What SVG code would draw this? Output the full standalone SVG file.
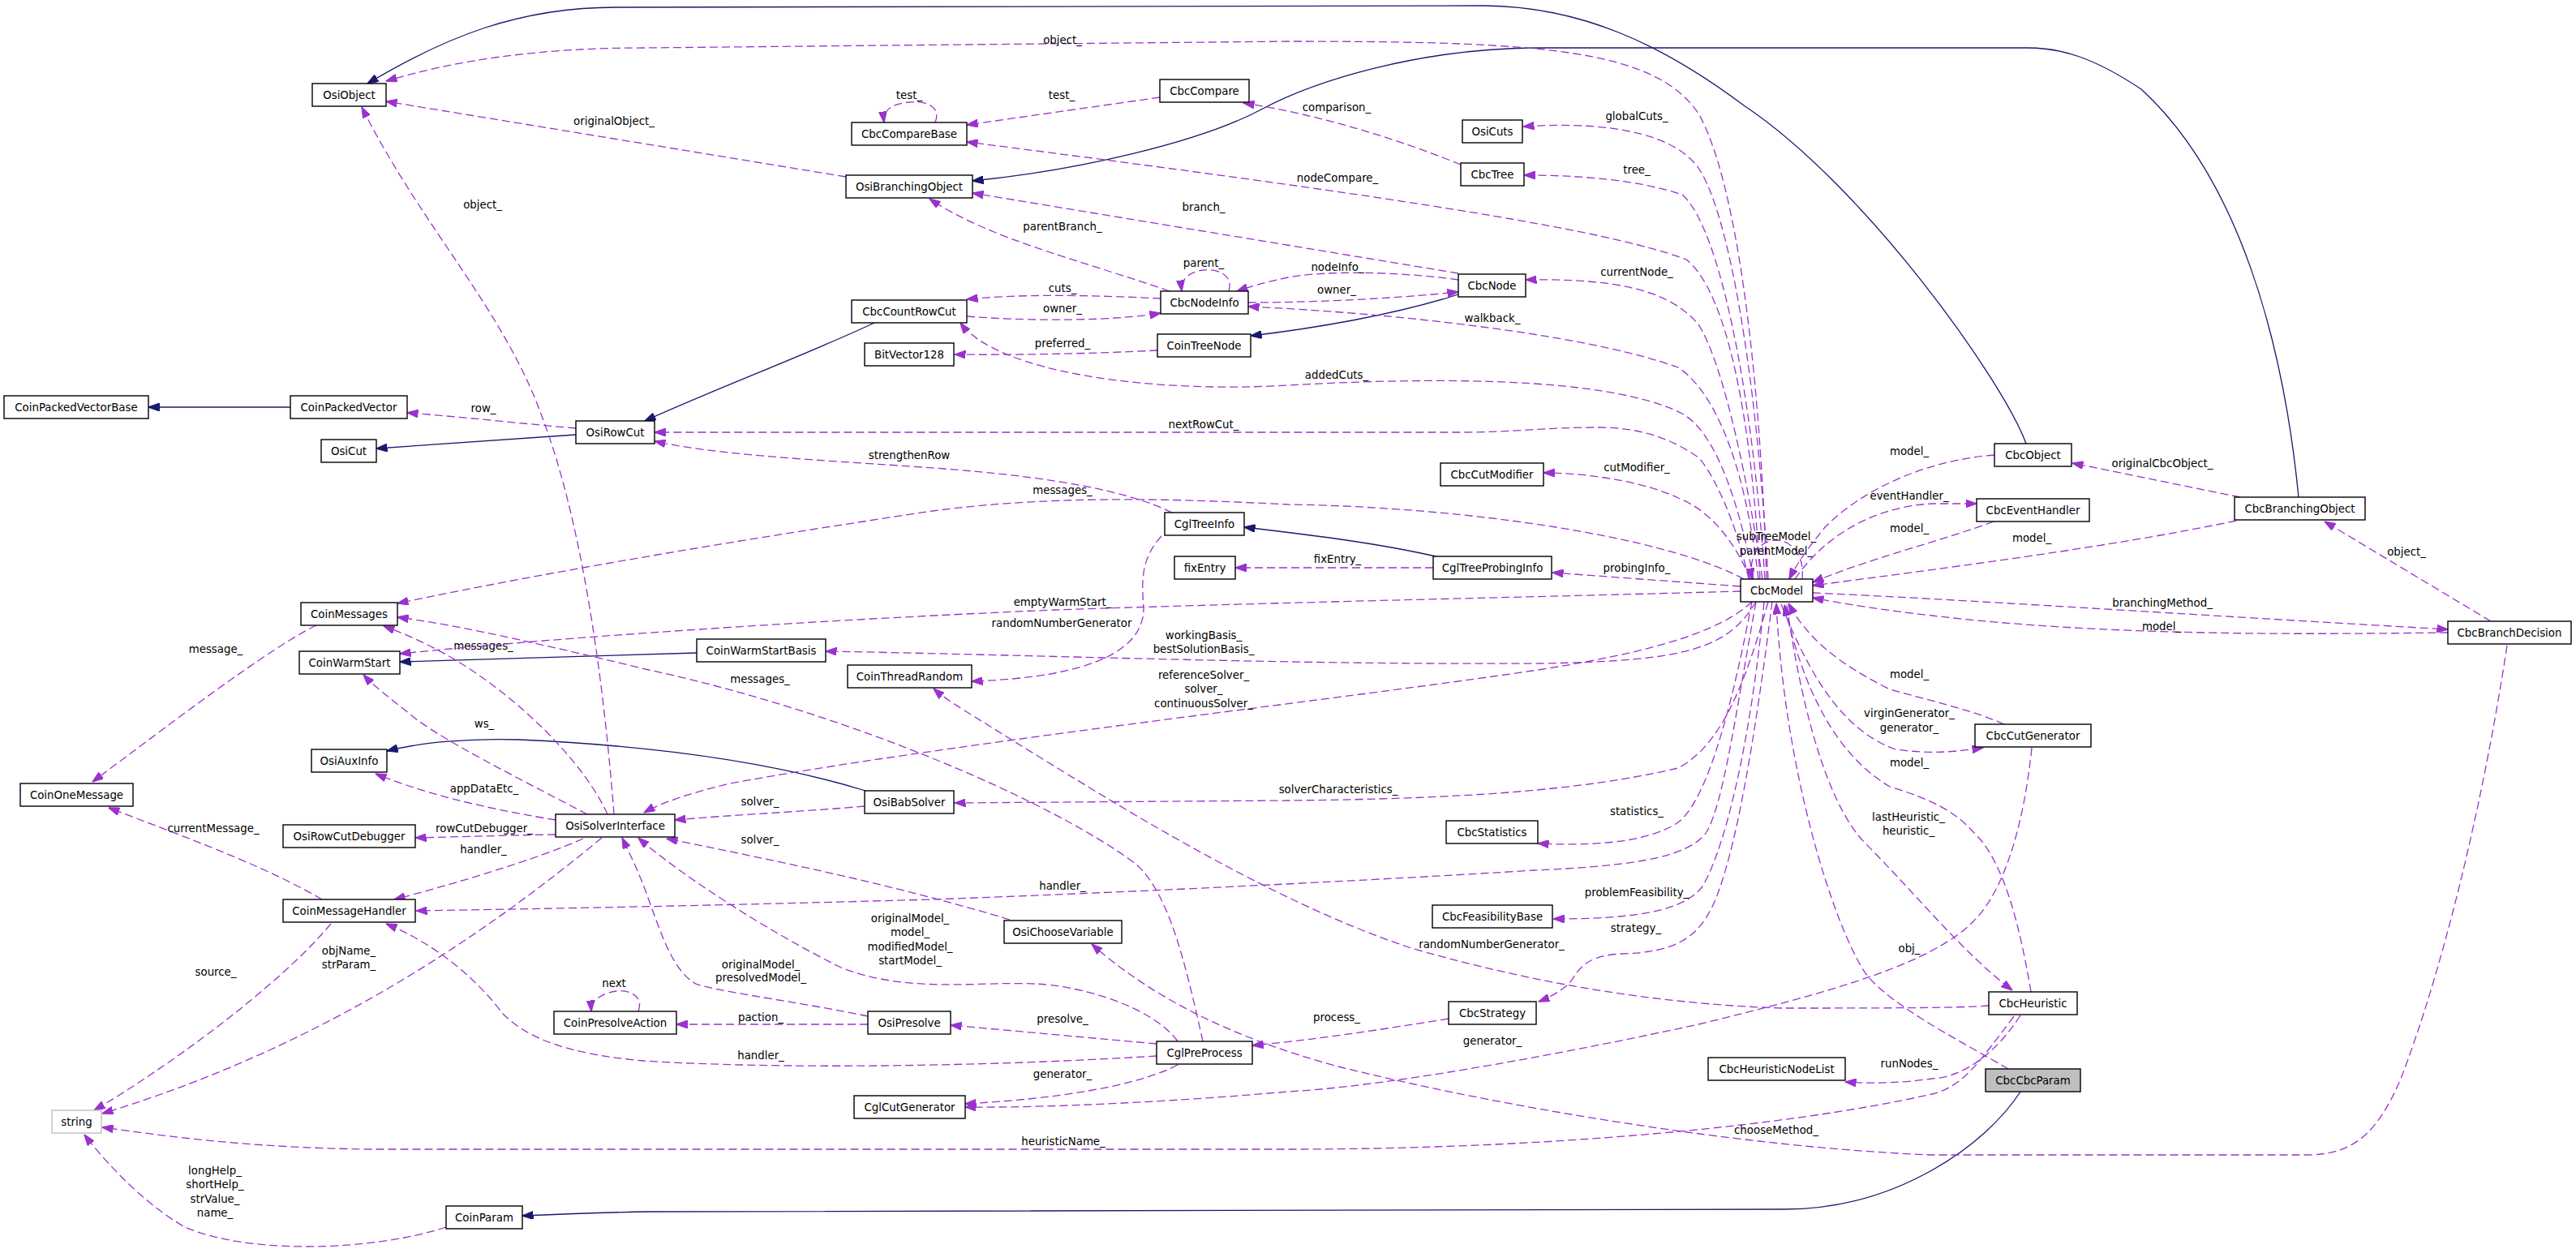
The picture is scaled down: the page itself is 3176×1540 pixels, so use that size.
<svg xmlns="http://www.w3.org/2000/svg" width="3176" height="1540" viewBox="0 0 3176 1540">
<style>
text{font-family:"DejaVu Sans","Liberation Sans",sans-serif;font-size:13.33px;fill:#000;text-anchor:middle}
.n rect{fill:#fff;stroke:#000;stroke-width:1.4}
.u{fill:none;stroke:#9a32cd;stroke-width:1.3;stroke-dasharray:10,5;marker-end:url(#au)}
.i{fill:none;stroke:#191970;stroke-width:1.3;marker-end:url(#ai)}
</style>
<defs>
<marker id="au" viewBox="0 0 14 10" refX="13.5" refY="5" markerWidth="14" markerHeight="10" markerUnits="userSpaceOnUse" orient="auto"><path d="M0,0 L14,5 L0,10 z" fill="#9a32cd" stroke="#9a32cd" stroke-width="1"/></marker>
<marker id="ai" viewBox="0 0 14 10" refX="13.5" refY="5" markerWidth="14" markerHeight="10" markerUnits="userSpaceOnUse" orient="auto"><path d="M0,0 L14,5 L0,10 z" fill="#191970" stroke="#191970" stroke-width="1"/></marker>
</defs>
<rect width="3176" height="1540" fill="#fff"/>
<g id="edges">
<!-- inheritance -->
<path class="i" d="M2834,613 C2815,420 2760,220 2640,110 C2580,70 2540,59 2500,59 L1900,59 C1750,59 1620,100 1555,135 C1480,175 1330,210 1199,223"/>
<path class="i" d="M2498,547 C2470,470 2300,230 2150,130 C2050,55 1950,8 1830,7 L760,9 C640,9 550,45 453,103"/>
<path class="i" d="M1078,398 C1000,435 880,480 795,519"/>
<path class="i" d="M358,502 L183,502"/>
<path class="i" d="M710,536 L464,553"/>
<path class="i" d="M1798,363 C1720,388 1620,405 1542,414"/>
<path class="i" d="M1770,686 C1700,670 1620,660 1534,650"/>
<path class="i" d="M859,805 L493,816"/>
<path class="i" d="M1067,975 C960,942 820,920 640,912 C580,910 520,915 477,926"/>
<path class="i" d="M2491,1346 C2450,1410 2340,1491 2200,1491 L800,1494 C740,1495 690,1497 644,1499"/>
<!-- usage -->
<path class="u" d="M2178,714 C2170,450 2140,220 2094,140 C2040,60 1900,51 1588,51 L794,59 C660,59 560,75 476,100"/>
<text x="1310" y="54">object_</text>
<path class="u" d="M1043,218 L476,125"/>
<text x="757" y="154">originalObject_</text>
<path class="u" d="M757,1004 C745,850 720,650 668,513 C620,380 520,280 446,132"/>
<text x="595" y="257">object_</text>
<path class="u" d="M1153,151 C1162,128 1135,124 1121,126 C1100,128 1088,135 1090,151"/>
<text x="1121" y="122">test_</text>
<path class="u" d="M1430,120 L1192,154"/>
<text x="1309" y="122">test_</text>
<path class="u" d="M2170,714 C2160,520 2130,360 2079,320 C1980,282 1700,240 1192,175"/>
<text x="1649" y="224">nodeCompare_</text>
<path class="u" d="M1801,203 C1720,170 1620,140 1533,127"/>
<text x="1648" y="137">comparison_</text>
<path class="u" d="M2180,714 C2165,450 2130,260 2094,207 C2060,160 1970,150 1878,156"/>
<text x="2018" y="148">globalCuts_</text>
<path class="u" d="M2176,714 C2160,480 2120,280 2074,240 C2020,222 1950,216 1879,216"/>
<text x="2018" y="214">tree_</text>
<path class="u" d="M1798,337 L1199,238"/>
<text x="1484" y="260">branch_</text>
<path class="u" d="M1442,359 C1330,320 1220,295 1146,245"/>
<text x="1310" y="284">parentBranch_</text>
<path class="u" d="M1515,359 C1522,336 1495,331 1485,333 C1470,334 1455,342 1457,359"/>
<text x="1484" y="329">parent_</text>
<path class="u" d="M1798,345 C1720,334 1630,334 1588,342 C1565,347 1545,352 1525,359"/>
<text x="1649" y="334">nodeInfo_</text>
<path class="u" d="M1539,373 C1600,373 1700,370 1798,360"/>
<text x="1648" y="362">owner_</text>
<path class="u" d="M1192,390 C1280,397 1380,395 1431,386"/>
<text x="1310" y="385">owner_</text>
<path class="u" d="M1431,368 C1350,364 1260,362 1192,369"/>
<text x="1310" y="360">cuts_</text>
<path class="u" d="M2168,714 C2150,560 2110,480 2069,453 C1950,410 1700,385 1539,378"/>
<text x="1840" y="397">walkback_</text>
<path class="u" d="M2162,714 C2140,600 2110,530 2074,510 C1980,462 1750,466 1588,475 C1420,485 1230,460 1184,398"/>
<text x="1648" y="467">addedCuts_</text>
<path class="u" d="M1427,432 C1350,436 1250,438 1177,437"/>
<text x="1310" y="428">preferred_</text>
<path class="u" d="M2173,714 C2150,560 2120,440 2094,400 C2060,360 2000,343 1881,345"/>
<text x="2018" y="340">currentNode_</text>
<path class="u" d="M2156,714 C2140,640 2110,580 2094,564 C2060,540 2020,527 1973,527 C1900,527 1870,533 1800,533 L807,533"/>
<text x="1484" y="528">nextRowCut_</text>
<path class="u" d="M1445,632 C1390,605 1300,590 1199,581 C1080,570 900,565 807,544"/>
<text x="1121" y="566">strengthenRow</text>
<path class="u" d="M2150,714 C2050,660 1800,625 1588,622 C1450,615 1300,610 1150,630 C950,660 700,700 490,744"/>
<text x="1310" y="609">messages_</text>
<path class="u" d="M749,1004 C720,940 640,860 557,811 C520,790 495,780 473,772"/>
<text x="596" y="801">messages_</text>
<path class="u" d="M1483,1284 C1460,1180 1440,1100 1400,1065 C1300,990 1050,880 800,826 C650,790 560,770 490,761"/>
<text x="937" y="842">messages_</text>
<path class="u" d="M2146,729 C1900,736 1600,742 1300,752 C1000,765 700,785 493,806"/>
<text x="1310" y="747">emptyWarmStart_</text>
<path class="u" d="M724,1004 C640,960 540,910 506,881 C480,860 460,845 448,832"/>
<text x="597" y="897">ws_</text>
<path class="u" d="M2165,742 C2130,800 2080,815 1900,818 C1600,820 1300,808 1018,803"/>
<text x="1484" y="788">workingBasis_</text>
<text x="1484" y="805">bestSolutionBasis_</text>
<path class="u" d="M2160,742 C2110,790 1980,815 1841,834 C1600,868 1150,920 900,966 C850,978 815,990 794,1002"/>
<text x="1484" y="837">referenceSolver_</text>
<text x="1484" y="854">solver_</text>
<text x="1484" y="872">continuousSolver_</text>
<path class="u" d="M1066,994 C1000,1000 900,1005 832,1011"/>
<text x="937" y="993">solver_</text>
<path class="u" d="M1245,1134 C1100,1090 950,1060 822,1034"/>
<text x="937" y="1040">solver_</text>
<path class="u" d="M1452,1284 C1420,1240 1330,1215 1275,1213 C1200,1210 1120,1225 1037,1193 C950,1150 840,1080 787,1033"/>
<text x="1122" y="1137">originalModel_</text>
<text x="1122" y="1154">model_</text>
<text x="1122" y="1172">modifiedModel_</text>
<text x="1122" y="1189">startModel_</text>
<path class="u" d="M1070,1253 C1000,1238 900,1225 860,1214 C830,1200 815,1150 800,1110 C788,1075 775,1050 767,1033"/>
<text x="938" y="1194">originalModel_</text>
<text x="938" y="1210">presolvedModel_</text>
<path class="u" d="M685,1011 C620,1000 540,985 463,954"/>
<text x="597" y="977">appDataEtc_</text>
<path class="u" d="M390,771 C330,800 200,900 114,964"/>
<text x="266" y="805">message_</text>
<path class="u" d="M397,1109 C330,1070 250,1040 134,996"/>
<text x="263" y="1026">currentMessage_</text>
<path class="u" d="M685,1029 C620,1030 560,1032 512,1033"/>
<text x="597" y="1026">rowCutDebugger_</text>
<path class="u" d="M719,1034 C660,1060 560,1090 486,1109"/>
<text x="596" y="1052">handler_</text>
<path class="u" d="M2165,742 C2140,880 2125,990 2104,1026 C2080,1060 2000,1068 1892,1073 C1700,1085 1400,1100 1148,1109 C900,1116 700,1120 513,1123"/>
<text x="1310" y="1097">handler_</text>
<path class="u" d="M1426,1302 C1200,1316 950,1318 794,1308 C700,1300 650,1280 620,1250 C590,1210 540,1165 476,1139"/>
<text x="938" y="1306">handler_</text>
<path class="u" d="M408,1139 C340,1220 200,1320 116,1369"/>
<text x="266" y="1203">source_</text>
<path class="u" d="M742,1033 C600,1150 400,1290 126,1373"/>
<text x="430" y="1177">objName_</text>
<text x="430" y="1194">strParam_</text>
<path class="u" d="M2483,1253 C2440,1310 2420,1340 2382,1349 C2200,1390 1900,1417 1588,1417 L456,1417 C300,1415 200,1400 126,1390"/>
<text x="1311" y="1412">heuristicName_</text>
<path class="u" d="M550,1513 C450,1545 300,1545 228,1513 C170,1480 120,1420 104,1399"/>
<text x="265" y="1448">longHelp_</text>
<text x="265" y="1465">shortHelp_</text>
<text x="265" y="1483">strValue_</text>
<text x="265" y="1500">name_</text>
<path class="u" d="M787,1247 C795,1225 770,1220 760,1222 C745,1224 728,1232 729,1247"/>
<text x="757" y="1217">next</text>
<path class="u" d="M1070,1263 L834,1263"/>
<text x="938" y="1259">paction_</text>
<path class="u" d="M3091,796 C3060,1000 3010,1200 2960,1330 C2930,1400 2900,1424 2843,1424 L2382,1424 C2150,1415 1850,1365 1650,1315 C1520,1280 1420,1230 1346,1164"/>
<text x="2190" y="1398">chooseMethod_</text>
<path class="u" d="M1426,1287 L1172,1264"/>
<text x="1310" y="1261">presolve_</text>
<path class="u" d="M1452,1313 C1400,1340 1300,1355 1190,1361"/>
<text x="1310" y="1329">generator_</text>
<path class="u" d="M2505,922 C2495,1020 2470,1100 2433,1136 C2380,1190 2250,1225 2094,1263 C1900,1305 1700,1340 1588,1346 C1450,1358 1300,1366 1190,1365"/>
<text x="1840" y="1288">generator_</text>
<path class="u" d="M1786,1256 C1700,1270 1620,1282 1544,1289"/>
<text x="1648" y="1259">process_</text>
<path class="u" d="M2175,742 C2160,900 2130,1040 2099,1093 C2075,1125 2010,1133 1915,1133"/>
<text x="2018" y="1105">problemFeasibility_</text>
<path class="u" d="M2160,742 C2130,900 2100,990 2069,1014 C2030,1040 1960,1043 1896,1040"/>
<text x="2018" y="1005">statistics_</text>
<path class="u" d="M2180,742 C2150,850 2120,920 2069,947 C1950,975 1800,985 1588,987 L1177,990"/>
<text x="1650" y="978">solverCharacteristics_</text>
<path class="u" d="M2185,742 C2165,900 2140,1060 2110,1120 C2090,1160 2060,1174 2000,1176 C1950,1178 1945,1200 1935,1212 C1925,1222 1910,1230 1897,1235"/>
<text x="2017" y="1149">strategy_</text>
<path class="u" d="M2491,1252 C2460,1300 2420,1328 2382,1330 C2340,1336 2300,1336 2275,1334"/>
<text x="2354" y="1316">runNodes_</text>
<path class="u" d="M2452,1240 C2420,1243 2300,1243 2196,1243 C2050,1238 1900,1215 1740,1169 C1560,1110 1350,975 1250,914 C1200,882 1170,866 1151,849"/>
<text x="1839" y="1169">randomNumberGenerator_</text>
<path class="u" d="M1432,661 C1405,690 1408,720 1410,750 C1410,800 1350,835 1198,840"/>
<text x="1309" y="773">randomNumberGenerator</text>
<path class="u" d="M1767,700 L1523,700"/>
<text x="1649" y="694">fixEntry_</text>
<path class="u" d="M2146,723 L1914,706"/>
<text x="2018" y="705">probingInfo_</text>
<path class="u" d="M2158,714 C2140,670 2110,630 2069,614 C2030,595 1960,583 1903,583"/>
<text x="2018" y="581">cutModifier_</text>
<path class="u" d="M2222,714 C2228,650 2150,650 2160,714"/>
<text x="2190" y="666">subTreeModel_</text>
<text x="2190" y="684">parentModel_</text>
<path class="u" d="M2459,561 C2380,567 2300,600 2250,650 C2230,675 2215,695 2206,714"/>
<text x="2354" y="561">model_</text>
<path class="u" d="M2213,714 C2250,660 2310,625 2382,621 L2437,621"/>
<text x="2354" y="616">eventHandler_</text>
<path class="u" d="M2458,643 C2400,665 2300,690 2235,718"/>
<text x="2354" y="656">model_</text>
<path class="u" d="M2757,642 C2600,675 2400,700 2235,722"/>
<text x="2505" y="668">model_</text>
<path class="u" d="M2235,731 C2400,738 2700,758 3018,776"/>
<text x="2666" y="748">branchingMethod_</text>
<path class="u" d="M3018,780 C2850,782 2600,785 2382,759 C2320,752 2270,744 2235,737"/>
<text x="2665" y="777">model_</text>
<path class="u" d="M3071,766 L2866,643"/>
<text x="2967" y="685">object_</text>
<path class="u" d="M2762,613 L2555,571"/>
<text x="2666" y="576">originalCbcObject_</text>
<path class="u" d="M2471,893 C2430,875 2380,864 2330,850 C2270,820 2230,790 2205,744"/>
<text x="2354" y="836">model_</text>
<path class="u" d="M2196,745 C2230,830 2270,900 2337,924 C2380,930 2410,927 2445,922"/>
<text x="2354" y="884">virginGenerator_</text>
<text x="2354" y="902">generator_</text>
<path class="u" d="M2504,1223 C2490,1140 2470,1060 2433,1026 C2410,1000 2380,985 2330,970 C2280,940 2230,880 2200,746"/>
<text x="2354" y="945">model_</text>
<path class="u" d="M2203,746 C2225,900 2260,1000 2300,1040 C2360,1100 2420,1175 2481,1221"/>
<text x="2353" y="1012">lastHeuristic_</text>
<text x="2353" y="1029">heuristic_</text>
<path class="u" d="M2476,1318 C2420,1285 2330,1240 2300,1200 C2260,1140 2200,950 2190,744"/>
<text x="2354" y="1174">obj_</text>
<path class="u" d="M710,528 C640,522 570,514 502,509"/>
<text x="596" y="508">row_</text>
</g>
<g id="OsiObject" class="n"><rect x="385" y="103" width="91" height="28"/><text x="430.5" y="122">OsiObject</text></g>
<g id="CoinPackedVectorBase" class="n"><rect x="5" y="488" width="178" height="28"/><text x="94" y="507">CoinPackedVectorBase</text></g>
<g id="CoinPackedVector" class="n"><rect x="358" y="488" width="144" height="28"/><text x="430" y="507">CoinPackedVector</text></g>
<g id="CbcCompare" class="n"><rect x="1430" y="98" width="110" height="28"/><text x="1485" y="117">CbcCompare</text></g>
<g id="CbcCompareBase" class="n"><rect x="1050" y="151" width="142" height="28"/><text x="1121" y="170">CbcCompareBase</text></g>
<g id="OsiBranchingObject" class="n"><rect x="1043" y="216" width="156" height="28"/><text x="1121" y="235">OsiBranchingObject</text></g>
<g id="CbcCountRowCut" class="n"><rect x="1050" y="370" width="142" height="28"/><text x="1121" y="389">CbcCountRowCut</text></g>
<g id="BitVector128" class="n"><rect x="1066" y="423" width="110" height="28"/><text x="1121" y="442">BitVector128</text></g>
<g id="CbcNodeInfo" class="n"><rect x="1431" y="359" width="108" height="28"/><text x="1485" y="378">CbcNodeInfo</text></g>
<g id="CoinTreeNode" class="n"><rect x="1427" y="412" width="115" height="28"/><text x="1484.5" y="431">CoinTreeNode</text></g>
<g id="OsiCuts" class="n"><rect x="1803" y="148" width="74" height="28"/><text x="1840" y="167">OsiCuts</text></g>
<g id="CbcTree" class="n"><rect x="1801" y="201" width="78" height="28"/><text x="1840" y="220">CbcTree</text></g>
<g id="CbcNode" class="n"><rect x="1798" y="338" width="83" height="28"/><text x="1839.5" y="357">CbcNode</text></g>
<g id="OsiRowCut" class="n"><rect x="710" y="519" width="97" height="28"/><text x="758.5" y="538">OsiRowCut</text></g>
<g id="OsiCut" class="n"><rect x="396" y="542" width="68" height="28"/><text x="430" y="561">OsiCut</text></g>
<g id="CoinMessages" class="n"><rect x="371" y="743" width="119" height="28"/><text x="430.5" y="762">CoinMessages</text></g>
<g id="CoinWarmStart" class="n"><rect x="369" y="803" width="124" height="28"/><text x="431" y="822">CoinWarmStart</text></g>
<g id="OsiAuxInfo" class="n"><rect x="384" y="924" width="93" height="28"/><text x="430.5" y="943">OsiAuxInfo</text></g>
<g id="CoinOneMessage" class="n"><rect x="25" y="966" width="139" height="28"/><text x="94.5" y="985">CoinOneMessage</text></g>
<g id="OsiSolverInterface" class="n"><rect x="685" y="1004" width="147" height="28"/><text x="758.5" y="1023">OsiSolverInterface</text></g>
<g id="OsiRowCutDebugger" class="n"><rect x="349" y="1017" width="163" height="28"/><text x="430.5" y="1036">OsiRowCutDebugger</text></g>
<g id="CoinMessageHandler" class="n"><rect x="349" y="1109" width="163" height="28"/><text x="430.5" y="1128">CoinMessageHandler</text></g>
<g id="string" class="n"><rect x="64" y="1369" width="61" height="28" style="stroke:#bfbfbf"/><text x="94.5" y="1388">string</text></g>
<g id="CoinPresolveAction" class="n"><rect x="683" y="1247" width="151" height="28"/><text x="758.5" y="1266">CoinPresolveAction</text></g>
<g id="CoinParam" class="n"><rect x="550" y="1487" width="94" height="28"/><text x="597" y="1506">CoinParam</text></g>
<g id="CglTreeInfo" class="n"><rect x="1436" y="632" width="98" height="28"/><text x="1485" y="651">CglTreeInfo</text></g>
<g id="fixEntry" class="n"><rect x="1448" y="686" width="75" height="28"/><text x="1485.5" y="705">fixEntry</text></g>
<g id="CoinWarmStartBasis" class="n"><rect x="859" y="788" width="159" height="28"/><text x="938.5" y="807">CoinWarmStartBasis</text></g>
<g id="CoinThreadRandom" class="n"><rect x="1045" y="820" width="153" height="28"/><text x="1121.5" y="839">CoinThreadRandom</text></g>
<g id="OsiBabSolver" class="n"><rect x="1066" y="975" width="110" height="28"/><text x="1121" y="994">OsiBabSolver</text></g>
<g id="CbcCutModifier" class="n"><rect x="1776" y="571" width="127" height="28"/><text x="1839.5" y="590">CbcCutModifier</text></g>
<g id="CglTreeProbingInfo" class="n"><rect x="1767" y="686" width="146" height="28"/><text x="1840" y="705">CglTreeProbingInfo</text></g>
<g id="CbcModel" class="n"><rect x="2146" y="714" width="89" height="28"/><text x="2190.5" y="733">CbcModel</text></g>
<g id="CbcStatistics" class="n"><rect x="1783" y="1012" width="113" height="28"/><text x="1839.5" y="1031">CbcStatistics</text></g>
<g id="CbcObject" class="n"><rect x="2459" y="547" width="95" height="28"/><text x="2506.5" y="566">CbcObject</text></g>
<g id="CbcEventHandler" class="n"><rect x="2437" y="615" width="139" height="28"/><text x="2506.5" y="634">CbcEventHandler</text></g>
<g id="CbcBranchingObject" class="n"><rect x="2755" y="613" width="161" height="28"/><text x="2835.5" y="632">CbcBranchingObject</text></g>
<g id="CbcBranchDecision" class="n"><rect x="3018" y="766" width="152" height="28"/><text x="3094" y="785">CbcBranchDecision</text></g>
<g id="CbcCutGenerator" class="n"><rect x="2435" y="893" width="143" height="28"/><text x="2506.5" y="912">CbcCutGenerator</text></g>
<g id="OsiChooseVariable" class="n"><rect x="1238" y="1135" width="145" height="28"/><text x="1310.5" y="1154">OsiChooseVariable</text></g>
<g id="OsiPresolve" class="n"><rect x="1070" y="1247" width="102" height="28"/><text x="1121" y="1266">OsiPresolve</text></g>
<g id="CglPreProcess" class="n"><rect x="1426" y="1284" width="118" height="28"/><text x="1485" y="1303">CglPreProcess</text></g>
<g id="CglCutGenerator" class="n"><rect x="1053" y="1351" width="137" height="28"/><text x="1121.5" y="1370">CglCutGenerator</text></g>
<g id="CbcFeasibilityBase" class="n"><rect x="1766" y="1116" width="148" height="28"/><text x="1840" y="1135">CbcFeasibilityBase</text></g>
<g id="CbcStrategy" class="n"><rect x="1786" y="1235" width="108" height="28"/><text x="1840" y="1254">CbcStrategy</text></g>
<g id="CbcHeuristicNodeList" class="n"><rect x="2106" y="1304" width="169" height="28"/><text x="2190.5" y="1323">CbcHeuristicNodeList</text></g>
<g id="CbcHeuristic" class="n"><rect x="2452" y="1223" width="109" height="28"/><text x="2506.5" y="1242">CbcHeuristic</text></g>
<g id="CbcCbcParam" class="n"><rect x="2448" y="1318" width="117" height="28" style="fill:#bfbfbf"/><text x="2506.5" y="1337">CbcCbcParam</text></g>
</svg>
